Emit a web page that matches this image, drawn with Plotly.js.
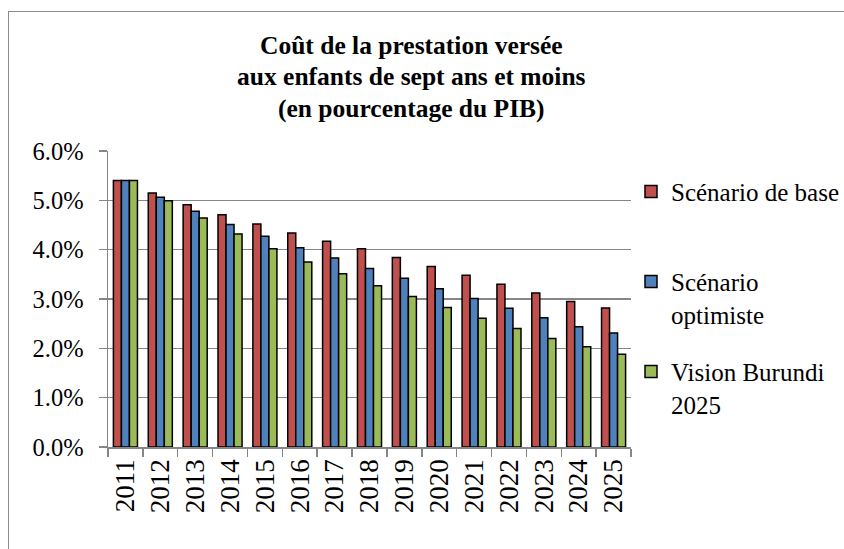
<!DOCTYPE html>
<html>
<head>
<meta charset="utf-8">
<script src="https://cdn.plot.ly/plotly-3.0.1.min.js"></script>
<style>
  html, body { margin: 0; padding: 0; background: #ffffff; }
  #frame { position: absolute; left: 8px; top: 11px; width: 900px; height: 600px;
           border: 1.5px solid #8c8c8c; box-sizing: border-box; }
  #chart { position: absolute; left: 0; top: 0; width: 844px; height: 549px; }
</style>
</head>
<body>
<div id="frame"></div>
<div id="chart"></div>
<script>
const years = ["2011","2012","2013","2014","2015","2016","2017","2018","2019","2020","2021","2022","2023","2024","2025"];
const scenarioBase = [0.054,0.0515,0.0491,0.0471,0.0452,0.0434,0.0417,0.0402,0.0384,0.0366,0.0348,0.0330,0.0312,0.0295,0.0282];
const scenarioOptimiste = [0.054,0.0506,0.0478,0.0451,0.0427,0.0404,0.0383,0.0362,0.0342,0.0321,0.0301,0.0281,0.0262,0.0244,0.0231];
const visionBurundi = [0.054,0.0499,0.0464,0.0432,0.0402,0.0375,0.0351,0.0327,0.0305,0.0283,0.0261,0.0240,0.0220,0.0203,0.0188];
const seriesNames = ["Scénario de base<br>\u00a0", "Scénario<br>optimiste", "Vision Burundi<br>2025"];
const yTickVals = [0,0.01,0.02,0.03,0.04,0.05,0.06];
const titleLines = ["Coût de la prestation versée", "aux enfants de sept ans et moins", "(en pourcentage du PIB)"];

const colors = ["#C0504D", "#4F81BD", "#9BBB59"];
const seriesData = [scenarioBase, scenarioOptimiste, visionBurundi];

const traces = seriesData.map((vals, i) => ({
  type: "bar",
  x: years,
  y: vals,
  name: seriesNames[i],
  legendgroup: "g" + i,
  marker: { color: colors[i], line: { color: "#000000", width: 1.5 } },
  hoverinfo: "x+y+name"
}));

const serif = "Times New Roman";

const titleAnnotations = titleLines.map((t, i) => ({
  text: "<b>" + t + "</b>",
  xref: "paper",
  yref: "paper",
  x: (411.5 - 108) / 523,
  xanchor: "center",
  y: (447 - (45 + i * 31.5)) / 296,
  yanchor: "middle",
  showarrow: false,
  font: { family: serif, size: 25.5, color: "#000000" }
}));

const layout = {
  width: 844,
  height: 549,
  font: { family: serif, color: "#000000" },
  paper_bgcolor: "rgba(0,0,0,0)",
  plot_bgcolor: "rgba(0,0,0,0)",
  margin: { l: 108, r: 213, t: 151, b: 102, pad: 0, autoexpand: false },
  barmode: "group",
  bargap: 0.31,
  bargroupgap: 0,
  showlegend: true,
  annotations: titleAnnotations,
  xaxis: {
    type: "category",
    tickangle: -90,
    tickfont: { family: serif, size: 27, color: "#000000" },
    showline: true,
    linecolor: "#868686",
    linewidth: 1.5,
    ticks: "outside",
    tickson: "boundaries",
    ticklen: 8,
    tickwidth: 1.5,
    tickcolor: "#868686",
    showgrid: false,
    zeroline: false,
    automargin: false,
    fixedrange: true
  },
  yaxis: {
    range: [0, 0.06],
    tickvals: yTickVals,
    tickformat: ".1%",
    tickfont: { family: serif, size: 24.5, color: "#000000" },
    showline: true,
    linecolor: "#868686",
    linewidth: 1.5,
    ticks: "outside",
    ticklen: 8,
    tickwidth: 1.5,
    tickcolor: "#868686",
    ticklabelstandoff: 10,
    showgrid: true,
    gridcolor: "#868686",
    gridwidth: 1.5,
    zeroline: false,
    automargin: false,
    fixedrange: true
  },
  legend: {
    x: 1.0,
    xanchor: "left",
    y: 0.94,
    yanchor: "top",
    font: { family: serif, size: 25, color: "#000000" },
    bgcolor: "rgba(0,0,0,0)",
    borderwidth: 0,
    valign: "top",
    traceorder: "grouped",
    tracegroupgap: 22,
    itemclick: false,
    itemdoubleclick: false
  }
};

Plotly.newPlot("chart", traces, layout, { displayModeBar: false, staticPlot: true });
</script>
</body>
</html>
